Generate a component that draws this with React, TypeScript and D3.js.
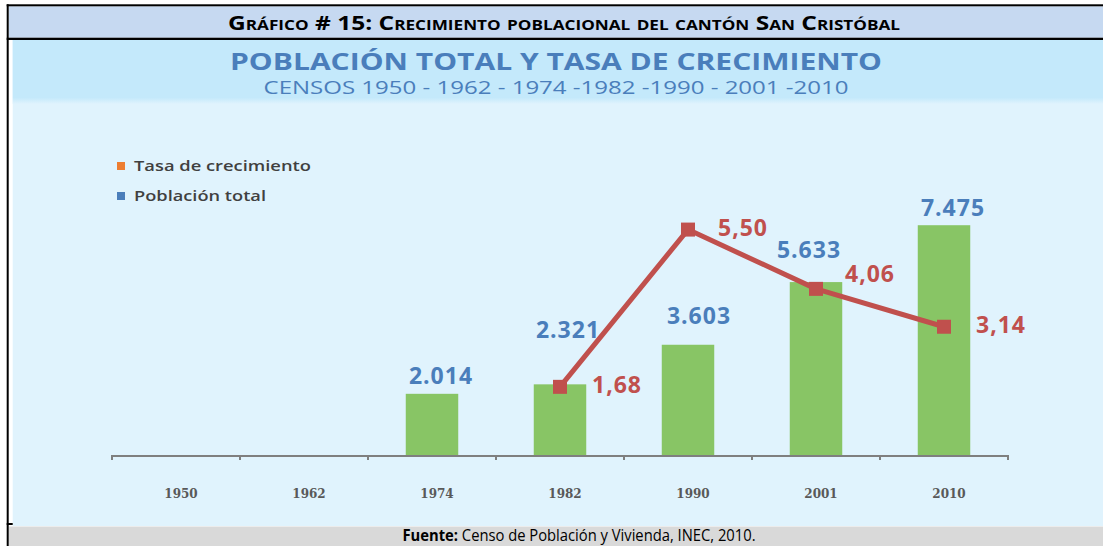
import { useEffect, useRef } from "react";
import * as d3 from "d3";

const YEARS = ["1950", "1962", "1974", "1982", "1990", "2001", "2010"];
const POPULATION: (number | null)[] = [null, null, 2014, 2321, 3603, 5633, 7475];
const GROWTH_RATE: (number | null)[] = [null, null, null, 1.68, 5.5, 4.06, 3.14];

// hand placement of the value labels, as in the original picture
const POP_LABEL_SHIFT: [number, number][] = [[0, 0], [0, 0], [9, -10], [8, -46], [11, -21], [-7, -24], [9, -9]];
const RATE_LABEL_SHIFT: [number, number][] = [[0, 0], [0, 0], [0, 0], [32, 6], [30, 6], [29, -7], [32, 6]];

const BLUE = "#4A7EBB";
const RED = "#C0504D";
const GREEN = "#88C565";

const es = d3.formatLocale({ decimal: ",", thousands: ".", grouping: [3], currency: ["", ""] });
const fmtPop = es.format(",.0f");
const fmtRate = es.format(".2f");

export default function App() {
  const ref = useRef<SVGSVGElement>(null);

  useEffect(() => {
    const el = ref.current;
    if (!el) return;
    const W = 1103, H = 546;
    const svg = d3.select(el).attr("width", W).attr("height", H).attr("viewBox", `0 0 ${W} ${H}`);
    svg.selectAll("*").remove();

    // page frame
    svg.append("rect").attr("width", W).attr("height", H).attr("fill", "#fff");
    svg.append("rect").attr("x", 8.7).attr("y", 6.3).attr("width", W).attr("height", 31.4).attr("fill", "#C6D9F1");
    svg.append("rect").attr("x", 12.7).attr("y", 40).attr("width", W).attr("height", 486).attr("fill", "#E0F3FD");
    const defs = svg.append("defs");
    const grad = defs.append("linearGradient").attr("id", "band").attr("x1", 0).attr("x2", 0).attr("y1", 0).attr("y2", 1);
    grad.append("stop").attr("offset", "0.9").attr("stop-color", "#C4E9FB");
    grad.append("stop").attr("offset", "1").attr("stop-color", "#E0F3FD");
    svg.append("rect").attr("x", 12.7).attr("y", 40).attr("width", W).attr("height", 64).attr("fill", "url(#band)");
    svg.append("rect").attr("x", 8.7).attr("y", 526.5).attr("width", W).attr("height", 20).attr("fill", "#D9D9D9");
    svg.append("rect").attr("x", 6.7).attr("y", 4.3).attr("width", W).attr("height", 2).attr("fill", "#000");
    svg.append("rect").attr("x", 6.7).attr("y", 37.7).attr("width", W).attr("height", 2.3).attr("fill", "#000");
    svg.append("rect").attr("x", 6.7).attr("y", 4.3).attr("width", 2).attr("height", H).attr("fill", "#000");
    svg.append("rect").attr("x", 6.7).attr("y", 523).attr("width", 6).attr("height", 2).attr("fill", "#000");

    // header
    svg.append("text").attr("x", 564).attr("y", 29.5).attr("text-anchor", "middle")
      .attr("font-family", "'Liberation Sans Narrow', 'Open Sans', sans-serif").attr("font-weight", 700)
      .attr("font-size", 20).attr("font-variant", "small-caps").attr("fill", "#000")
      .attr("textLength", 672).attr("lengthAdjust", "spacingAndGlyphs")
      .text("Gráfico # 15: Crecimiento poblacional del cantón San Cristóbal");

    svg.append("text").attr("x", 556).attr("y", 70).attr("text-anchor", "middle")
      .attr("font-family", "'Open Sans', sans-serif").attr("font-weight", 700).attr("font-size", 24)
      .attr("fill", BLUE).attr("textLength", 652).attr("lengthAdjust", "spacingAndGlyphs")
      .text("POBLACIÓN TOTAL Y TASA DE CRECIMIENTO");
    svg.append("text").attr("x", 556).attr("y", 94).attr("text-anchor", "middle")
      .attr("font-family", "'Open Sans', sans-serif").attr("font-size", 18)
      .attr("fill", BLUE).attr("textLength", 585).attr("lengthAdjust", "spacingAndGlyphs")
      .text("CENSOS 1950 - 1962 - 1974 -1982 -1990 - 2001 -2010");

    // legend
    const legend = [{ label: "Tasa de crecimiento", color: "#ED7D31", len: 177 }, { label: "Población total", color: BLUE, len: 132 }];
    const lg = svg.append("g").selectAll("g").data(legend).join("g")
      .attr("transform", (_, i) => `translate(117,${162 + i * 30})`);
    lg.append("rect").attr("width", 8).attr("height", 8).attr("fill", (d) => d.color);
    lg.append("text").attr("x", 17).attr("y", 8.5).attr("font-family", "'Open Sans', sans-serif")
      .attr("font-weight", 600).attr("font-size", 14).attr("fill", "#404040")
      .attr("textLength", (d) => d.len).attr("lengthAdjust", "spacingAndGlyphs").text((d) => d.label);

    // scales
    const x = d3.scaleBand<string>().domain(YEARS).range([112, 1008]).paddingInner(0.59).paddingOuter(0.295);
    const step = x.step();
    const cx = (y: string) => (x(y) ?? 0) + x.bandwidth() / 2;
    const yPop = d3.scaleLinear().domain([0, 8000]).range([456, 209]);
    const yRate = d3.scaleLinear().domain([0, 6]).range([456, 209]);

    const rows = YEARS.map((year, i) => ({ year, i, pop: POPULATION[i], rate: GROWTH_RATE[i] }));

    // bars
    svg.append("g").selectAll("rect").data(rows.filter((d) => d.pop != null)).join("rect")
      .attr("x", (d) => x(d.year) ?? 0).attr("width", x.bandwidth())
      .attr("y", (d) => yPop(d.pop as number)).attr("height", (d) => yPop(0) - yPop(d.pop as number))
      .attr("fill", GREEN);

    // axis
    const ax = svg.append("g").attr("stroke", "#7F7F7F").attr("stroke-width", 2);
    ax.append("line").attr("x1", 111).attr("x2", 1009).attr("y1", 456).attr("y2", 456);
    ax.selectAll("line.tick").data(d3.range(YEARS.length + 1)).join("line")
      .attr("x1", (i) => 112 + i * step).attr("x2", (i) => 112 + i * step).attr("y1", 456).attr("y2", 460);
    svg.append("g").selectAll("text").data(YEARS).join("text")
      .attr("x", (d) => cx(d) + 5).attr("y", 498).attr("text-anchor", "middle")
      .attr("font-family", "'DejaVu Serif', serif").attr("font-weight", 700).attr("font-size", 12)
      .attr("fill", "#595959").text((d) => d);

    // growth rate line
    const rateRows = rows.filter((d) => d.rate != null);
    const line = d3.line<(typeof rows)[number]>().x((d) => cx(d.year)).y((d) => yRate(d.rate as number));
    svg.append("path").datum(rateRows).attr("d", line).attr("fill", "none")
      .attr("stroke", RED).attr("stroke-width", 5).attr("stroke-linejoin", "round");
    svg.append("g").selectAll("rect").data(rateRows).join("rect")
      .attr("x", (d) => cx(d.year) - 7).attr("y", (d) => yRate(d.rate as number) - 7)
      .attr("width", 14).attr("height", 14).attr("fill", RED);

    const numFont = "'Open Sans', sans-serif";
    svg.append("g").selectAll("text").data(rows.filter((d) => d.pop != null)).join("text")
      .attr("x", (d) => cx(d.year) + POP_LABEL_SHIFT[d.i][0])
      .attr("y", (d) => yPop(d.pop as number) + POP_LABEL_SHIFT[d.i][1])
      .attr("text-anchor", "middle").attr("font-family", numFont).attr("font-weight", 700)
      .attr("font-size", 23).attr("letter-spacing", 1).attr("fill", BLUE)
      .text((d) => fmtPop(d.pop as number));
    svg.append("g").selectAll("text").data(rateRows).join("text")
      .attr("x", (d) => cx(d.year) + RATE_LABEL_SHIFT[d.i][0])
      .attr("y", (d) => yRate(d.rate as number) + RATE_LABEL_SHIFT[d.i][1])
      .attr("font-family", numFont).attr("font-weight", 700)
      .attr("font-size", 23).attr("letter-spacing", 1).attr("fill", RED)
      .text((d) => fmtRate(d.rate as number));

    // source
    const src = svg.append("text").attr("x", 579).attr("y", 541).attr("text-anchor", "middle")
      .attr("font-family", "'Liberation Sans Narrow', 'Open Sans', sans-serif").attr("font-size", 16)
      .attr("fill", "#000").attr("textLength", 353).attr("lengthAdjust", "spacingAndGlyphs");
    src.append("tspan").attr("font-weight", 700).text("Fuente:");
    src.append("tspan").text(" Censo de Población y Vivienda, INEC, 2010.");
  }, []);

  return <svg ref={ref} style={{ position: "absolute", left: 0, top: 0 }} role="img" aria-label="Población total y tasa de crecimiento" />;
}
